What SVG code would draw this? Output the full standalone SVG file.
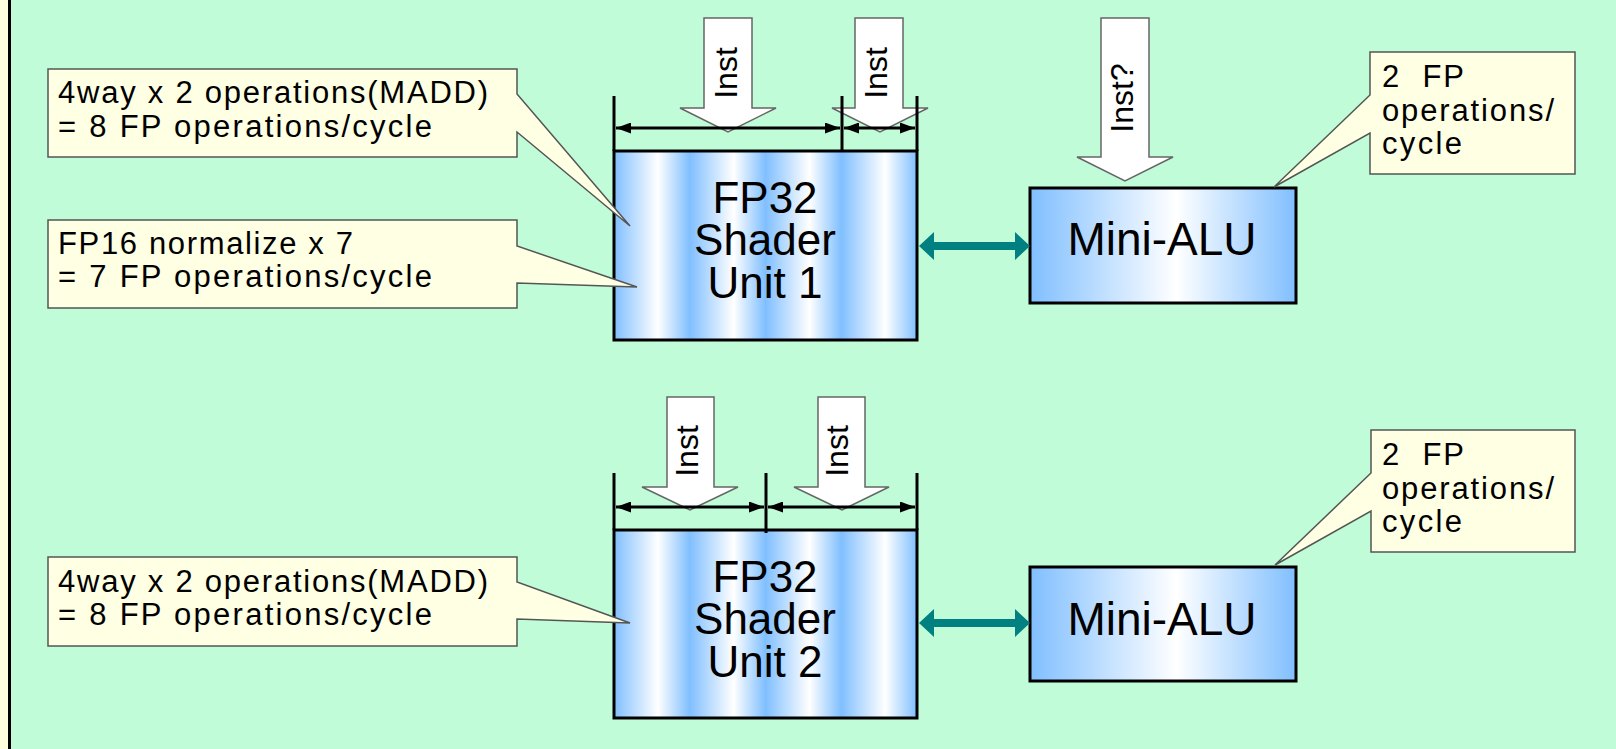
<svg xmlns="http://www.w3.org/2000/svg" width="1616" height="749" viewBox="0 0 1616 749">
<style>
.t{font-family:"Liberation Sans",Arial,sans-serif;fill:#000}
.call{font-size:31px}
.big{font-size:44px}
.inst{font-size:32px}
.callout{fill:#FFFFE4;stroke:#555;stroke-width:1.5}
.iarrow{fill:#fff;stroke:#666;stroke-width:1.5}
.dim{stroke:#000;stroke-width:3;fill:none}
.box{stroke:#000;stroke-width:3}
.teal{fill:#008080}
</style>
<defs>
<linearGradient id="stripes" gradientUnits="userSpaceOnUse" x1="614" y1="0" x2="689.75" y2="0" spreadMethod="repeat">
<stop offset="0" stop-color="#80BFFF"/>
<stop offset="0.58" stop-color="#FFFFFF"/>
<stop offset="1" stop-color="#80BFFF"/>
</linearGradient>
<linearGradient id="alu" x1="0" y1="0" x2="1" y2="0">
<stop offset="0" stop-color="#80BFFF"/>
<stop offset="0.55" stop-color="#FFFFFF"/>
<stop offset="1" stop-color="#80BFFF"/>
</linearGradient>
<marker id="ah" markerUnits="userSpaceOnUse" markerWidth="15" markerHeight="11" refX="15" refY="5.5" orient="auto-start-reverse">
<path d="M0,0 L15,5.5 L0,11 Z" fill="#000"/>
</marker>
</defs>
<rect width="1616" height="749" fill="#BFFCD7"/>
<rect x="0" y="0" width="8" height="749" fill="#FFFFE0"/>
<rect x="8" y="0" width="3" height="749" fill="#000"/>

<g id="inst-arrows">
<path class="iarrow" d="M704,18 H752 V108 H776 L728,132 L680,108 H704 Z"/>
<text class="t inst" transform="translate(737,73) rotate(-90)" text-anchor="middle">Inst</text>
<path class="iarrow" d="M855,18 H903 V108 H928 L880,132 L832,108 H855 Z"/>
<text class="t inst" transform="translate(887,73) rotate(-90)" text-anchor="middle">Inst</text>
<path class="iarrow" d="M1101,18 H1149 V157 H1173 L1125,181 L1077,157 H1101 Z"/>
<text class="t inst" transform="translate(1133,98) rotate(-90)" text-anchor="middle">Inst?</text>
<path class="iarrow" d="M667,397 H714 V487 H738 L690,510 L642,487 H667 Z"/>
<text class="t inst" transform="translate(698,451) rotate(-90)" text-anchor="middle">Inst</text>
<path class="iarrow" d="M818,397 H865 V487 H889 L842,510 L794,487 H818 Z"/>
<text class="t inst" transform="translate(848,451) rotate(-90)" text-anchor="middle">Inst</text>
</g>

<g id="shader1">
<rect class="box" x="614" y="151" width="303" height="189" fill="url(#stripes)"/>
<text class="t big" x="765" y="213" text-anchor="middle">FP32</text>
<text class="t big" x="765" y="255" text-anchor="middle">Shader</text>
<text class="t big" x="765" y="298" text-anchor="middle">Unit 1</text>
</g>

<g id="shader2">
<rect class="box" x="614" y="530" width="303" height="188" fill="url(#stripes)"/>
<text class="t big" x="765" y="592" text-anchor="middle">FP32</text>
<text class="t big" x="765" y="634" text-anchor="middle">Shader</text>
<text class="t big" x="765" y="677" text-anchor="middle">Unit 2</text>
</g>

<g id="alu1">
<rect class="box" x="1030" y="188" width="266" height="115" fill="url(#alu)"/>
<text class="t" x="1162" y="255" font-size="46" text-anchor="middle">Mini-ALU</text>
</g>

<g id="alu2">
<rect class="box" x="1030" y="567" width="266" height="114" fill="url(#alu)"/>
<text class="t" x="1162" y="635" font-size="46" text-anchor="middle">Mini-ALU</text>
</g>

<g id="connectors">
<line class="dim" x1="614" y1="96" x2="614" y2="151"/>
<line class="dim" x1="842" y1="96" x2="842" y2="152"/>
<line class="dim" x1="917" y1="96" x2="917" y2="151"/>
<line class="dim" x1="616" y1="128" x2="840" y2="128" marker-start="url(#ah)" marker-end="url(#ah)"/>
<line class="dim" x1="844" y1="128" x2="915" y2="128" marker-start="url(#ah)" marker-end="url(#ah)"/>
<line class="dim" x1="614" y1="473" x2="614" y2="530"/>
<line class="dim" x1="766" y1="473" x2="766" y2="533"/>
<line class="dim" x1="917" y1="473" x2="917" y2="530"/>
<line class="dim" x1="616" y1="507" x2="764" y2="507" marker-start="url(#ah)" marker-end="url(#ah)"/>
<line class="dim" x1="768" y1="507" x2="915" y2="507" marker-start="url(#ah)" marker-end="url(#ah)"/>
<path class="teal" d="M919,246 L934,232 L934,242 L1015,242 L1015,232 L1030,246 L1015,260 L1015,250 L934,250 L934,260 Z"/>
<path class="teal" d="M919,623 L934,609 L934,619 L1015,619 L1015,609 L1030,623 L1015,637 L1015,627 L934,627 L934,637 Z"/>
</g>

<g id="callout-madd1">
<path class="callout" d="M48,69 H517 V94 L630,226 L517,132 V157 H48 Z"/>
<text class="t call" x="58" y="103" textLength="430" lengthAdjust="spacing">4way x 2 operations(MADD)</text>
<text class="t call" x="58" y="137" textLength="374" lengthAdjust="spacing">= 8 FP operations/cycle</text>
</g>

<g id="callout-fp16">
<path class="callout" d="M48,220 H517 V246 L637,287 L517,283 V308 H48 Z"/>
<text class="t call" x="58" y="254" textLength="295" lengthAdjust="spacing">FP16 normalize x 7</text>
<text class="t call" x="58" y="287" textLength="374" lengthAdjust="spacing">= 7 FP operations/cycle</text>
</g>

<g id="callout-madd2">
<path class="callout" d="M48,557 H517 V582 L630,623 L517,619 V646 H48 Z"/>
<text class="t call" x="58" y="592" textLength="430" lengthAdjust="spacing">4way x 2 operations(MADD)</text>
<text class="t call" x="58" y="625" textLength="374" lengthAdjust="spacing">= 8 FP operations/cycle</text>
</g>

<g id="callout-alu1">
<path class="callout" d="M1370,52 H1575 V174 H1370 V133 L1274,187 L1370,95 Z"/>
<text class="t call" x="1382" y="87" textLength="82" lengthAdjust="spacing">2&#160; FP</text>
<text class="t call" x="1382" y="121" textLength="172" lengthAdjust="spacing">operations/</text>
<text class="t call" x="1382" y="154" textLength="80" lengthAdjust="spacing">cycle</text>
</g>

<g id="callout-alu2">
<path class="callout" d="M1371,430 H1575 V552 H1371 V511 L1275,565 L1371,473 Z"/>
<text class="t call" x="1382" y="465" textLength="82" lengthAdjust="spacing">2&#160; FP</text>
<text class="t call" x="1382" y="499" textLength="172" lengthAdjust="spacing">operations/</text>
<text class="t call" x="1382" y="532" textLength="80" lengthAdjust="spacing">cycle</text>
</g>
</svg>
